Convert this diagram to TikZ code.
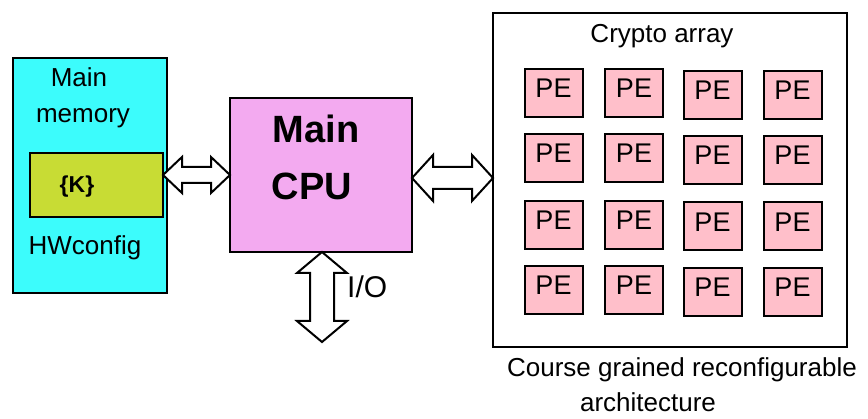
\documentclass[tikz,border=0pt]{standalone}
\usepackage{fontspec}
\setmainfont{Liberation Sans}
\usetikzlibrary{calc}
\definecolor{memcyan}{HTML}{3CFCFC}
\definecolor{kgreen}{HTML}{C8DC34}
\definecolor{cpuviolet}{HTML}{F3AAF0}
\definecolor{pepink}{HTML}{FFBFCA}
\tikzset{
  box/.style={draw=black, line width=2pt, outer sep=0pt, inner sep=0pt},
  pebox/.style={box, fill=pepink, minimum width=58pt, minimum height=48pt,
     font=\fontsize{27}{27}\selectfont, text height=19.4pt, text depth=10pt},
  lbl/.style={inner sep=0pt, anchor=base, font=\fontsize{26}{26}\selectfont},
  blbl/.style={inner sep=0pt, anchor=base, font=\fontsize{38}{38}\selectfont\bfseries},
  dblarrow/.style={draw=black, fill=white, line width=2pt, line join=miter}
}
\newcommand\hdbl[5]{%
 \path[dblarrow] let \p1=(#1), \p2=(#2) in
  (\x1,\y1) -- (\x1+#3pt,\y1+#4pt) -- (\x1+#3pt,\y1+#5pt) -- (\x2-#3pt,\y2+#5pt)
  -- (\x2-#3pt,\y2+#4pt) -- (\x2,\y2) -- (\x2-#3pt,\y2-#4pt) -- (\x2-#3pt,\y2-#5pt)
  -- (\x1+#3pt,\y1-#5pt) -- (\x1+#3pt,\y1-#4pt) -- cycle;}
\newcommand\vdbl[5]{%
 \path[dblarrow] let \p1=(#1), \p2=(#2) in
  (\x1,\y1) -- (\x1-#4pt,\y1-#3pt) -- (\x1-#5pt,\y1-#3pt) -- (\x2-#5pt,\y2+#3pt)
  -- (\x2-#4pt,\y2+#3pt) -- (\x2,\y2) -- (\x2+#4pt,\y2+#3pt) -- (\x2+#5pt,\y2+#3pt)
  -- (\x1+#5pt,\y1-#3pt) -- (\x1+#4pt,\y1-#3pt) -- cycle;}
\begin{document}
\begin{tikzpicture}[x=1pt,y=-1pt]
\useasboundingbox (0,0) rectangle (868,419);
% main memory
\node[box, fill=memcyan, minimum width=154pt, minimum height=235pt] (mem) at (90,175.5) {};
\node[lbl] (memt1) at (79,87) {Main};
\node[lbl] (memt2) at (83,123) {memory};
\node[box, fill=kgreen, minimum width=133pt, minimum height=64pt] (K) at (96.5,185) {};
\node[inner sep=0pt, anchor=base, font=\fontsize{23}{23}\selectfont\bfseries] (Kt) at (77,193) {\{K\}};
\node[lbl] (hw) at (85,255) {HWconfig};
% CPU
\node[box, fill=cpuviolet, minimum width=182pt, minimum height=154pt] (cpu) at (321,175) {};
\node[blbl] (cpu1) at (316,143) {Main};
\node[blbl] (cpu2) at (312,200) {CPU};
% crypto array
\node[box, fill=white, minimum width=354pt, minimum height=334pt] (crypto) at (670,180) {};
\node[lbl] (ctitle) at (662,43) {Crypto array};
\foreach \r/\ya/\yb in {1/93/95, 2/158/160, 3/225/226.5, 4/290/292}{
  \node[pebox] (pe\r1) at (553.5,\ya) {PE};
  \node[pebox] (pe\r2) at (634,\ya) {PE};
  \node[pebox] (pe\r3) at (712.5,\yb) {PE};
  \node[pebox] (pe\r4) at (792.5,\yb) {PE};
}
\node[lbl] (cap1) at (682,377) {Course grained reconfigurable};
\node[lbl] (cap2) at (648,412) {architecture};
% arrows
\hdbl{K.east |- cpu.west}{cpu.west}{19}{18}{8}
\hdbl{$(cpu.east)+(0,3)$}{$(crypto.west |- cpu.east)+(0,3)$}{21}{23}{11}
\coordinate (iob) at (322,342);
\vdbl{cpu.south -| iob}{iob}{21}{25}{12}
\node[inner sep=0pt, anchor=base west, font=\fontsize{30}{30}\selectfont] (io) at (347,298) {I/O};
\end{tikzpicture}
\end{document}
